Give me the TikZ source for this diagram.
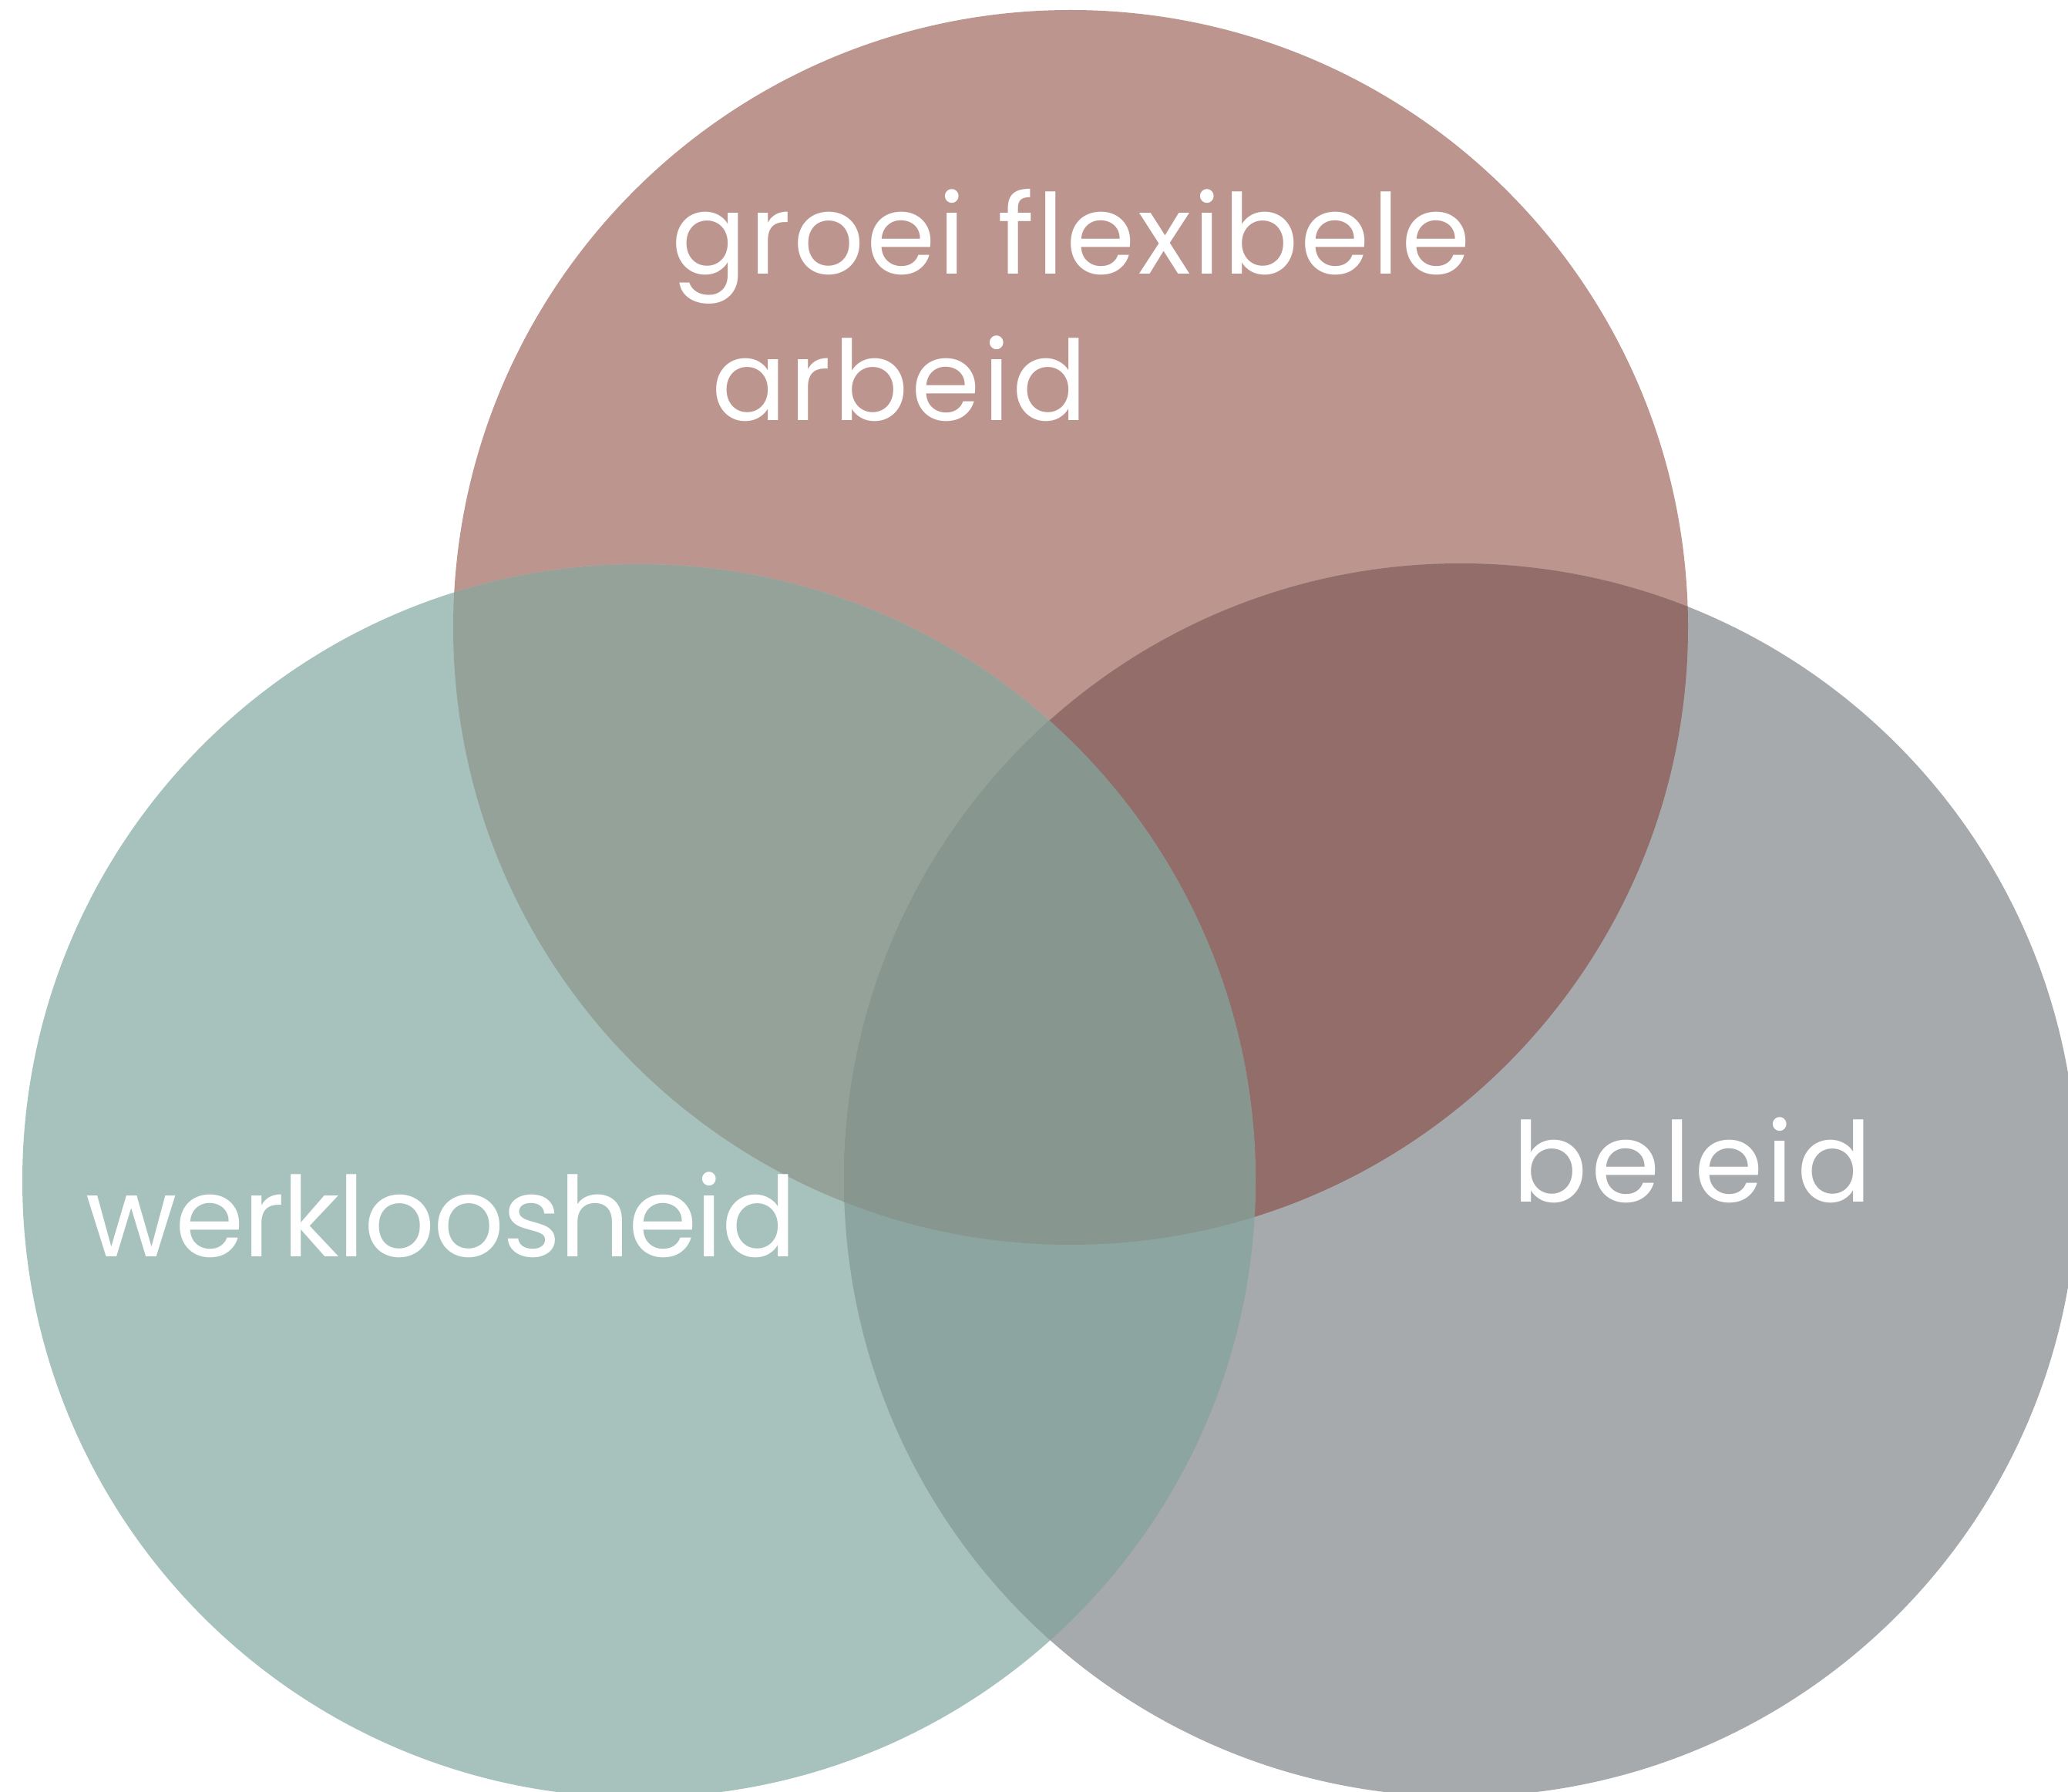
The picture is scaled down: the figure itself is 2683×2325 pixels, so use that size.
\documentclass[tikz,border=0pt]{standalone}
\usepackage{fontspec}
\setmainfont{Poppins}
\definecolor{ctop}{HTML}{BD958F}
\definecolor{cleft}{HTML}{A7C1BC}
\definecolor{cright}{HTML}{A7AAAD}
\definecolor{ctl}{HTML}{94A29A}
\definecolor{ctr}{HTML}{926D69}
\definecolor{clr}{HTML}{8DA5A1}
\definecolor{ctlr}{HTML}{87968E}
\begin{document}
\begin{tikzpicture}[x=0.01cm,y=-0.01cm,
  lbl/.style={anchor=base west,inner sep=0pt,text=white,font=\fontsize{41}{49}\selectfont}]
\useasboundingbox (0,0) rectangle (2683,2325);
\fill[white] (0,0) rectangle (2683,2325);
\clip (0,0) rectangle (2683,2325);
\def\ctop{(1389,814) circle[radius=801]}
\def\cleft{(829,1532) circle[radius=800]}
\def\cright{(1895,1531) circle[radius=800]}
\fill[ctop] \ctop;
\fill[cleft] \cleft;
\fill[cright] \cright;
\begin{scope}
  \clip \ctop; \fill[ctl] \cleft;
\end{scope}
\begin{scope}
  \clip \ctop; \fill[ctr] \cright;
\end{scope}
\begin{scope}
  \clip \cleft; \fill[clr] \cright;
\end{scope}
\begin{scope}
  \clip \ctop; \clip \cleft; \fill[ctlr] \cright;
\end{scope}
\node[lbl] (t1) at (871,356) {\addfontfeature{LetterSpace=2.2}groei flexibele};
\node[lbl] (t2) at (923,546) {\addfontfeature{LetterSpace=2.3}arbeid};
\node[lbl] (t3) at (111,1631) {\addfontfeature{LetterSpace=-1.5}werkloosheid};
\node[lbl] (t4) at (1962,1560) {\addfontfeature{LetterSpace=3}beleid};
\end{tikzpicture}
\end{document}
